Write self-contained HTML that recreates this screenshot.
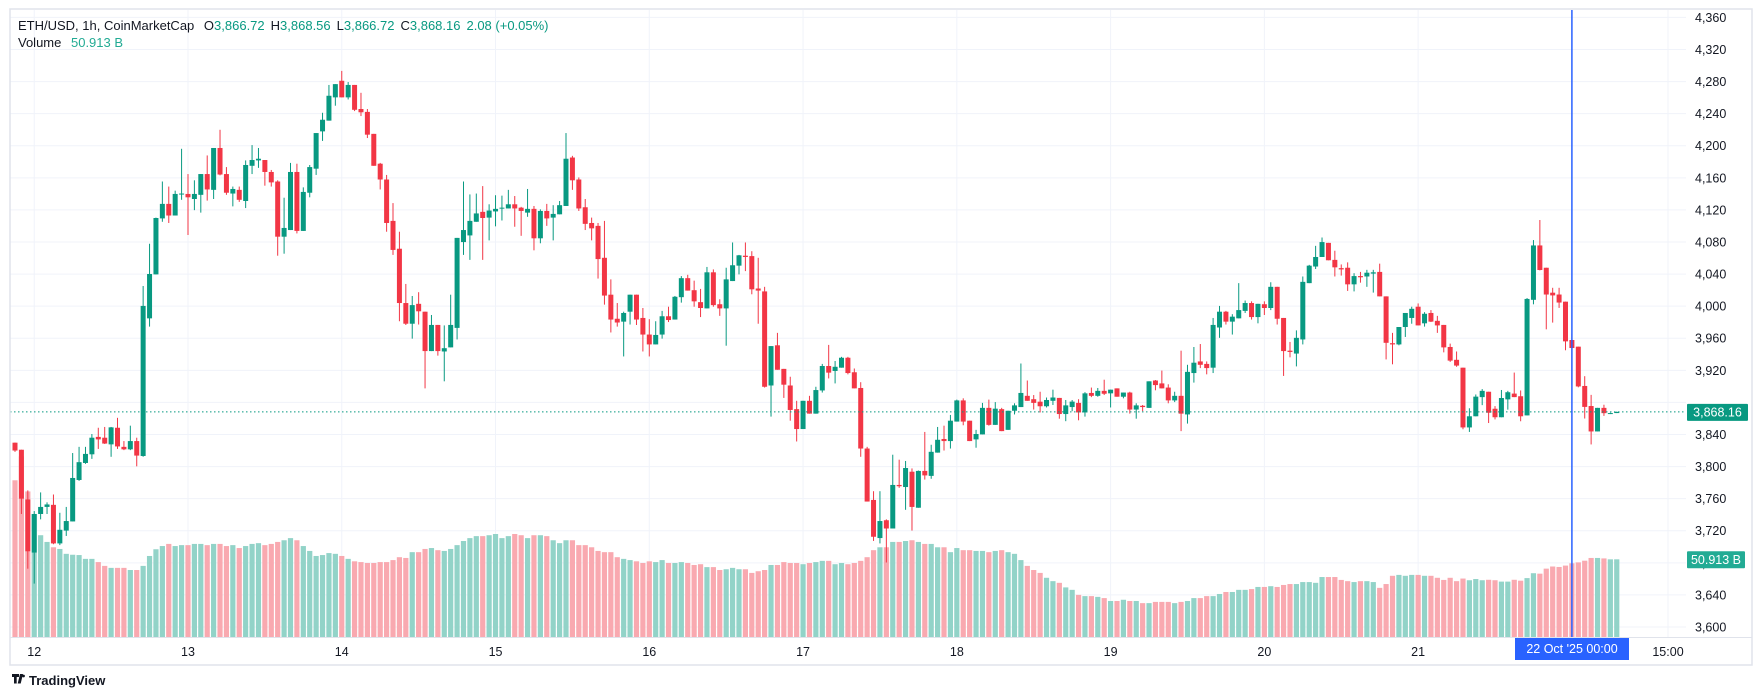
<!DOCTYPE html>
<html><head><meta charset="utf-8"><style>
html,body{margin:0;padding:0;background:#fff;width:1756px;height:700px;overflow:hidden}
svg{display:block;font-family:"Liberation Sans",Arial,sans-serif}
</style></head><body>
<svg id="chart" width="1756" height="700" viewBox="0 0 1756 700" xmlns="http://www.w3.org/2000/svg">
<rect x="0" y="0" width="1756" height="700" fill="#fff"/>
<g id="grid"></g>
<g id="vol"></g>
<g id="candles"></g>
<g id="axes"></g>
<rect x="10" y="9" width="1742" height="656" fill="none" stroke="#e0e3eb" stroke-width="1.5"/>
<text x="18" y="30" font-size="13" fill="#131722">ETH/USD, 1h, CoinMarketCap <tspan dx="6">O</tspan><tspan fill="#089981">3,866.72</tspan><tspan dx="6">H</tspan><tspan fill="#089981">3,868.56</tspan><tspan dx="6">L</tspan><tspan fill="#089981">3,866.72</tspan><tspan dx="6">C</tspan><tspan fill="#089981">3,868.16</tspan><tspan dx="6" fill="#089981">2.08 (+0.05%)</tspan></text>
<text x="18" y="47" font-size="13" fill="#131722">Volume <tspan dx="6" fill="#22ab94">50.913 B</tspan></text>
<g>
<path d="M12 674h7v3h-2.3v6.5h-2.7V677H12z M20 674h3l-2.3 9.5h-3z" fill="#131722"/>
<circle cx="23.5" cy="676" r="1.4" fill="#131722"/>
<text x="29" y="685" font-size="13" font-weight="bold" fill="#131722">TradingView</text>
</g>
</svg>
<script>
const opens=[3829.8,3821.0,3759.0,3692.8,3740.9,3749.7,3752.3,3704.2,3720.2,3731.6,3783.3,3804.5,3815.3,3837.0,3836.0,3827.7,3848.4,3824.6,3821.5,3831.8,3813.2,3984.8,4039.6,4109.4,4127.5,4113.0,4139.4,4139.9,4133.6,4138.8,4164.7,4145.0,4197.2,4164.7,4140.4,4145.0,4131.1,4175.0,4181.7,4182.2,4167.3,4155.4,4086.6,4094.9,4167.3,4093.8,4141.4,4171.4,4217.9,4231.3,4260.3,4281.0,4260.3,4275.8,4245.8,4242.2,4214.8,4177.6,4157.9,4106.3,4071.6,4003.9,3978.1,4002.9,3993.1,3944.0,3976.6,3943.5,3948.6,3972.9,4079.9,4088.2,4105.2,4117.6,4110.4,4118.1,4121.8,4121.8,4127.0,4122.8,4116.6,4121.3,4084.6,4118.7,4110.4,4114.5,4124.9,4185.3,4157.9,4123.3,4103.7,4100.1,4060.3,4014.3,3984.3,3980.7,3993.1,4014.3,3985.3,3964.6,3952.3,3964.6,3987.4,3983.3,4011.2,4034.9,4019.9,4005.0,3997.2,4042.2,4002.4,3997.2,4031.3,4050.5,4062.9,4062.4,4022.0,4018.4,3901.1,3951.2,3921.8,3901.1,3871.6,3846.8,3882.0,3866.0,3894.9,3925.4,3919.2,3923.3,3935.7,3917.6,3898.0,3822.5,3758.4,3710.9,3733.1,3722.8,3777.1,3774.5,3793.6,3748.7,3794.6,3788.4,3817.4,3834.4,3831.8,3856.1,3882.5,3857.2,3833.9,3840.1,3873.2,3852.0,3871.6,3845.8,3869.6,3874.2,3888.2,3884.0,3880.9,3875.2,3882.0,3885.6,3865.5,3874.2,3879.4,3867.5,3891.8,3888.2,3894.4,3891.3,3897.5,3887.1,3892.3,3871.1,3875.8,3873.2,3907.3,3903.7,3898.5,3882.5,3888.2,3865.0,3916.6,3931.1,3928.0,3923.3,3973.4,3993.1,3980.7,3984.8,3994.1,4003.9,3986.4,4002.4,3997.7,4024.1,3985.3,3944.5,3940.9,3958.5,4028.7,4049.4,4061.3,4078.9,4057.7,4047.4,4047.9,4027.2,4037.5,4037.0,4040.6,4042.7,4012.2,3953.8,3952.3,3974.0,3985.3,3999.3,3978.6,3991.5,3981.7,3976.6,3949.1,3933.1,3923.3,3848.8,3862.7,3886.6,3893.3,3872.1,3861.5,3883.8,3891.0,3887.7,3863.8,4007.9,4075.7,4047.9,4016.8,4014.5,4005.6,3957.8,3949.5,3900.5,3875.5,3843.8,3873.2,3866.6,3866.72];
const highs=[3829.8,3821.0,3770.3,3744.5,3767.8,3755.4,3765.2,3742.4,3749.7,3816.9,3824.6,3824.6,3840.6,3848.4,3849.4,3849.4,3860.8,3831.8,3851.0,3836.0,4025.1,4077.8,4110.4,4155.4,4149.1,4144.0,4196.2,4164.7,4156.9,4164.7,4187.9,4197.2,4219.9,4173.4,4149.1,4149.1,4181.7,4200.8,4197.2,4182.2,4169.8,4156.9,4135.2,4178.6,4177.6,4148.1,4176.0,4215.8,4241.1,4275.8,4276.8,4293.3,4279.4,4275.8,4266.0,4245.8,4214.8,4178.6,4163.6,4128.5,4092.8,4027.7,4012.7,4017.4,3993.1,3989.0,3976.6,3976.0,4014.3,4085.1,4155.4,4139.3,4140.4,4149.7,4127.0,4138.3,4137.8,4145.0,4137.3,4123.8,4146.1,4124.9,4120.7,4127.5,4125.9,4131.1,4215.8,4187.4,4160.5,4133.6,4110.4,4103.7,4106.3,4033.4,4003.9,3993.1,4014.3,4014.3,3997.7,3983.8,3981.2,3994.1,3999.3,4012.7,4037.5,4039.1,4031.8,4021.5,4048.9,4045.8,4008.6,4047.9,4079.4,4063.9,4079.4,4068.5,4060.3,4024.1,3950.2,3966.7,3921.8,3912.0,3882.0,3882.0,3888.2,3899.5,3928.0,3951.7,3931.6,3936.8,3936.8,3922.3,3905.2,3824.6,3769.3,3769.3,3734.2,3814.8,3808.6,3807.0,3797.7,3795.1,3843.2,3827.2,3849.4,3851.0,3864.4,3883.5,3885.1,3857.2,3845.8,3879.4,3883.5,3880.4,3873.2,3869.6,3878.9,3928.5,3907.3,3889.2,3893.3,3886.1,3895.9,3885.6,3883.0,3883.0,3884.0,3892.8,3898.5,3898.0,3908.3,3895.9,3897.5,3892.3,3893.3,3878.9,3876.8,3906.3,3907.9,3919.7,3902.6,3893.3,3944.5,3926.9,3949.1,3952.8,3931.1,3985.3,4000.3,3994.1,3990.0,4028.7,4007.0,4006.0,4002.9,4006.0,4029.8,4024.1,3985.3,3955.4,3969.8,4037.0,4051.5,4075.2,4085.6,4078.9,4069.1,4052.0,4054.6,4041.1,4042.7,4045.3,4045.3,4053.0,4012.2,3966.7,3974.0,3991.5,3999.3,4003.4,3992.5,3995.1,3987.9,3976.6,3953.3,3943.5,3923.3,3872.7,3889.9,3896.6,3893.3,3875.4,3895.5,3894.4,3917.2,3894.9,4010.1,4082.4,4107.4,4047.9,4022.9,4022.9,4005.6,3965.6,3949.5,3912.7,3889.4,3873.2,3877.1,3867.2,3868.56];
const lows=[3818.4,3740.9,3672.7,3654.1,3734.2,3740.9,3703.2,3702.1,3713.5,3731.6,3782.2,3803.4,3809.6,3822.0,3828.2,3812.2,3822.0,3820.5,3820.5,3800.3,3812.2,3974.5,4039.6,4105.2,4103.7,4113.0,4132.6,4088.7,4119.7,4116.6,4131.6,4133.6,4163.1,4138.8,4124.4,4130.0,4122.3,4164.7,4172.4,4150.2,4149.1,4062.9,4065.4,4094.9,4090.7,4093.8,4135.7,4163.6,4206.0,4231.3,4249.9,4260.3,4257.7,4243.2,4237.0,4209.6,4175.0,4145.5,4092.8,4063.9,3981.2,3976.5,3959.5,3977.1,3897.5,3944.0,3938.3,3906.3,3948.6,3958.5,4063.9,4057.7,4105.2,4057.7,4082.0,4099.5,4106.8,4121.8,4099.0,4087.7,4111.4,4069.6,4078.4,4100.1,4082.0,4114.5,4124.9,4145.0,4118.7,4094.9,4082.0,4034.4,4001.9,3967.2,3974.5,3937.3,3977.1,3976.5,3943.5,3937.3,3952.3,3959.5,3980.2,3983.3,4004.4,4019.4,3999.3,3986.4,3997.2,3999.3,3987.9,3950.7,4031.3,4039.6,4043.7,4014.8,3978.1,3898.5,3862.3,3920.7,3885.6,3857.2,3831.3,3846.8,3866.0,3866.0,3892.3,3909.9,3903.7,3923.3,3915.0,3897.5,3812.2,3756.4,3707.3,3704.2,3680.4,3722.8,3773.5,3746.1,3720.2,3748.7,3783.8,3784.8,3817.4,3820.0,3822.5,3856.1,3851.5,3831.8,3823.5,3840.1,3851.0,3852.0,3844.2,3845.8,3865.0,3874.2,3882.0,3871.1,3867.5,3873.7,3876.8,3859.7,3856.6,3869.1,3857.7,3862.3,3886.6,3887.1,3889.2,3873.7,3887.1,3885.1,3866.0,3859.7,3869.1,3873.2,3895.1,3897.5,3878.9,3880.4,3844.2,3853.6,3904.7,3922.8,3915.0,3916.6,3960.5,3977.1,3964.6,3984.8,3991.5,3983.3,3978.6,3989.0,3995.1,3977.1,3913.0,3936.2,3924.9,3952.3,4028.7,4046.3,4061.3,4057.2,4037.0,4038.1,4019.0,4018.4,4029.3,4024.1,4016.9,4012.2,3933.6,3927.5,3951.2,3961.6,3978.1,3976.0,3974.5,3980.2,3966.7,3942.4,3930.5,3924.4,3846.5,3843.2,3862.7,3876.6,3854.3,3858.8,3861.5,3871.0,3886.6,3856.5,3863.8,4002.3,4044.6,3971.1,3979.5,3997.8,3945.0,3901.6,3898.8,3859.9,3827.6,3843.8,3863.2,3865.5,3866.72];
const closes=[3820.0,3760.0,3694.4,3740.9,3749.7,3752.8,3704.2,3721.2,3732.1,3785.8,3805.5,3815.8,3836.0,3833.9,3828.7,3848.9,3825.1,3821.5,3831.8,3813.7,4000.3,4040.1,4109.9,4127.5,4113.0,4139.9,4140.4,4135.7,4139.9,4164.7,4145.5,4197.2,4164.1,4141.4,4146.1,4132.6,4176.0,4182.2,4183.8,4167.3,4154.3,4086.6,4097.5,4167.3,4093.8,4142.4,4173.4,4215.8,4232.4,4262.3,4276.8,4260.3,4275.8,4244.8,4241.7,4213.8,4175.0,4157.9,4103.7,4070.1,4003.9,3978.1,4001.3,3993.6,3944.0,3976.6,3944.0,3947.6,3976.6,4085.1,4094.9,4106.3,4115.6,4109.9,4119.2,4121.3,4122.8,4127.0,4121.8,4118.7,4121.3,4084.6,4118.7,4109.4,4115.0,4125.9,4183.8,4156.9,4121.8,4102.6,4097.0,4058.7,4013.2,3983.3,3979.6,3991.5,4014.3,3983.3,3964.6,3952.3,3964.1,3987.4,3982.7,4011.7,4034.9,4019.4,4006.0,3997.7,4042.2,4001.3,3997.2,4033.4,4051.0,4063.4,4061.3,4021.0,4019.4,3899.5,3950.2,3920.7,3902.1,3870.6,3846.8,3882.0,3866.0,3895.4,3925.4,3917.1,3924.4,3935.7,3916.6,3897.5,3822.5,3756.4,3712.5,3732.1,3722.8,3777.1,3775.5,3798.2,3749.7,3794.6,3789.0,3818.4,3833.4,3831.8,3857.2,3882.5,3856.1,3831.8,3840.6,3873.2,3852.0,3872.2,3844.2,3869.6,3876.3,3891.8,3882.0,3879.4,3875.2,3883.0,3886.1,3865.5,3876.3,3881.0,3867.5,3891.3,3888.2,3894.4,3890.8,3895.9,3887.1,3892.3,3871.1,3876.3,3874.2,3906.3,3901.6,3897.5,3882.5,3888.2,3866.0,3918.1,3929.5,3926.9,3922.8,3976.6,3993.1,3980.7,3986.9,3995.1,4003.9,3986.4,4002.9,3997.7,4024.1,3984.3,3944.0,3942.9,3960.5,4030.3,4050.5,4061.3,4079.9,4057.2,4048.4,4045.8,4027.2,4037.5,4036.0,4041.7,4042.2,4012.2,3954.3,3952.3,3974.0,3991.5,3996.7,3976.0,3990.5,3980.7,3976.0,3948.6,3932.1,3925.9,3848.8,3862.7,3887.2,3894.4,3867.1,3861.5,3885.5,3892.7,3886.6,3862.7,4009.0,4075.7,4045.1,4014.5,4013.4,4004.5,3956.1,3947.8,3899.9,3874.4,3843.8,3873.2,3866.6,3866.7,3868.16];
const volumes=[102.7,118.4,95.4,80.5,66.7,62.3,58.8,57.7,54.5,53.9,53.7,51.2,51.2,49.1,46.6,45.3,45.3,45.3,43.9,43.9,46.6,53.1,57.5,59.6,61.0,59.6,60.2,60.2,61.0,61.0,60.2,61.0,61.0,59.6,60.2,58.3,59.6,61.0,61.5,60.2,61.0,62.3,63.4,64.8,63.4,59.6,56.4,53.1,53.7,55.0,54.5,53.1,51.2,49.6,49.1,48.5,48.5,49.1,49.1,50.4,52.3,51.8,55.6,55.6,57.7,58.3,56.9,56.4,57.7,60.2,62.9,64.8,66.1,66.1,66.7,67.5,64.8,66.1,67.5,66.7,64.8,66.7,66.7,66.1,63.4,61.5,63.4,63.4,60.2,60.2,58.8,56.4,55.6,55.6,52.3,51.2,50.4,49.6,48.5,49.6,49.1,50.4,48.5,48.5,49.1,48.5,47.2,47.7,45.8,45.8,43.9,44.4,45.3,44.4,44.4,42.0,43.1,43.9,47.2,47.2,49.1,48.5,48.5,47.7,48.5,49.1,49.9,49.9,47.7,48.5,47.7,48.5,49.9,52.3,56.9,58.8,58.8,62.3,62.3,62.9,63.4,62.3,61.0,61.0,58.8,58.8,55.6,58.3,56.9,56.9,56.4,56.4,55.6,56.4,56.9,55.6,54.5,50.4,46.6,43.9,42.0,38.8,36.6,35.5,32.5,30.9,27.6,26.8,26.8,26.3,25.5,23.6,23.6,24.4,23.6,23.6,22.2,22.2,23.0,23.0,23.0,22.2,23.0,23.6,25.5,25.5,26.8,26.8,28.2,29.5,29.5,30.9,30.9,31.4,32.8,32.8,33.3,32.8,34.1,34.7,34.7,36.0,36.0,35.5,39.3,39.3,39.3,37.4,36.6,36.0,36.6,36.6,36.0,32.2,34.7,40.1,40.7,40.1,40.7,40.7,40.1,40.1,38.8,37.4,38.8,36.6,38.3,37.2,38.0,37.2,37.5,37.2,36.3,36.3,37.5,36.9,38.6,41.8,41.5,44.8,46.2,45.9,46.8,48.3,48.9,50.0,51.8,51.8,51.5,50.9,50.913];
const priceTicks=[4360,4320,4280,4240,4200,4160,4120,4080,4040,4000,3960,3920,3880,3840,3800,3760,3720,3680,3640,3600];
const dayLabels=["12","13","14","15","16","17","18","19","20","21"];
const lastPrice=3868.16, lastVolume=50.913;

const NS="http://www.w3.org/2000/svg";
const PL=10, PR=1686, VBASE=637;
function yP(p){return 17.4+(4360-p)*(609.6/760);}
function xI(i){return 15.0+6.407*i;}
function hV(v){return v*1.526;}
function mk(tag,attrs,parent){const e=document.createElementNS(NS,tag);for(const k in attrs)e.setAttribute(k,attrs[k]);parent.appendChild(e);return e;}
const grid=document.getElementById('grid'),vol=document.getElementById('vol'),cg=document.getElementById('candles'),ax=document.getElementById('axes');

priceTicks.forEach(p=>{
  const l=mk('line',{x1:PL,x2:PR,y1:yP(p),y2:yP(p),stroke:'#f0f3fa','stroke-width':1},grid);
  
  
  if(p===3880) return;
  const t=mk('text',{x:1695,y:yP(p)+4.5,'font-size':12.5,fill:'#131722'},ax);
  t.textContent=p.toLocaleString('en-US');
  
  
});
dayLabels.forEach((d,k)=>{
  const x=xI(3+24*k);
  const l=mk('line',{x1:x,x2:x,y1:10,y2:VBASE,stroke:'#f0f3fa','stroke-width':1},grid);
  
  
  const t=mk('text',{x:x,y:656,'font-size':12.5,fill:'#131722','text-anchor':'middle'},ax);
  t.textContent=d;
  
  
});
{const x=xI(258);
 const l=mk('line',{x1:x,x2:x,y1:10,y2:VBASE,stroke:'#f0f3fa','stroke-width':1},grid);
 
 
 const t=mk('text',{x:x,y:656,'font-size':12.5,fill:'#131722','text-anchor':'middle'},ax);
 t.textContent='15:00';
 
 }

// volume
volumes.forEach((v,i)=>{
  const up=closes[i]>=opens[i];
  const h=hV(v);
  const r=mk('rect',{x:xI(i)-2.6,y:VBASE-h,width:5.2,height:h,fill:up?'#92d3c8':'#f9a9b0'},vol);
  
  
});
// candles
opens.forEach((o,i)=>{
  const c=closes[i],up=c>=o,col=up?'#089981':'#f23645',x=xI(i);
  const g=mk('g',{},cg);
  
  
  mk('line',{x1:x,x2:x,y1:yP(highs[i]),y2:yP(lows[i]),stroke:col,'stroke-width':1},g);
  const top=yP(Math.max(o,c)),bot=yP(Math.min(o,c));
  mk('rect',{x:x-2.5,y:top,width:5,height:Math.max(1,bot-top),fill:col},g);
});
// last price line
{const y=yP(lastPrice);
 const l=mk('line',{x1:PL,x2:PR,y1:y,y2:y,stroke:'#089981','stroke-width':1,'stroke-dasharray':'1.5 2.5'},ax);
 
 
 const b=mk('rect',{x:1687,y:y-8,width:61,height:17,fill:'#089981',rx:1},ax);
 
 
 const t=mk('text',{x:1717.5,y:y+4.5,'font-size':12.5,fill:'#fff','text-anchor':'middle'},ax);
 t.textContent=lastPrice.toLocaleString('en-US',{minimumFractionDigits:2});
 
 }
{const y=VBASE-hV(lastVolume);
 const b=mk('rect',{x:1687,y:y-8,width:58,height:17,fill:'#22ab94',rx:1},ax);
 
 
 const t=mk('text',{x:1716,y:y+4.5,'font-size':12.5,fill:'#fff','text-anchor':'middle'},ax);
 t.textContent=lastVolume+' B';
 
 }
// crosshair
{const x=xI(243);
 const l=mk('line',{x1:x,x2:x,y1:10,y2:VBASE,stroke:'#2962ff','stroke-width':1.5},ax);
 
 
 const b=mk('rect',{x:1515,y:VBASE,width:114,height:23,fill:'#2962ff'},ax);
 
 
 const t=mk('text',{x:1572,y:VBASE+16,'font-size':12.5,fill:'#fff','text-anchor':'middle','xml:space':'preserve'},ax);
 t.textContent="22 Oct '25   00:00";
 
 }
// time axis line
{const l=mk('line',{x1:PL,x2:1752,y1:VBASE+0.5,y2:VBASE+0.5,stroke:'#e0e3eb','stroke-width':1},ax);
 
 }
</script>
</body></html>
